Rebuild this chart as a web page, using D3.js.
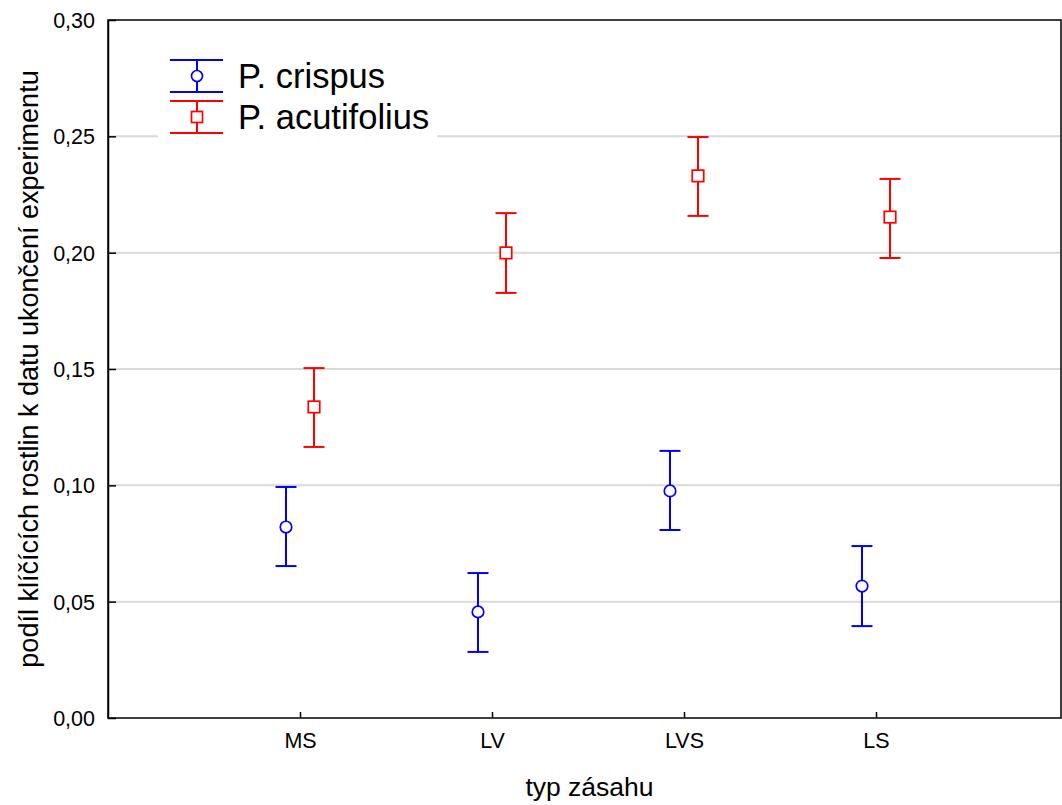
<!DOCTYPE html>
<html>
<head>
<meta charset="utf-8">
<script src="https://cdn.jsdelivr.net/npm/d3@7"></script>
<style>
  body { margin: 0; background: #fff; }
  text { font-family: "Liberation Sans", Arial, sans-serif; fill: #000; }
</style>
</head>
<body>
<svg id="chart" width="1062" height="805"></svg>
<script>
// data
var categories = ["MS", "LV", "LVS", "LS"];
var yTicks = [0, 0.05, 0.10, 0.15, 0.20, 0.25, 0.30];

var crispusMean  = [0.0821, 0.0456, 0.0976, 0.0567];
var crispusLow   = [0.0653, 0.0284, 0.0808, 0.0395];
var crispusHigh  = [0.0993, 0.0623, 0.1148, 0.0739];

var acutiMean = [0.1337, 0.1999, 0.2330, 0.2153];
var acutiLow  = [0.1165, 0.1827, 0.2158, 0.1977];
var acutiHigh = [0.1504, 0.2170, 0.2497, 0.2317];

var series = [
  { name: "P. crispus", color: "#0000ff", shape: "circle", offset: -14, mean: crispusMean, lo: crispusLow, hi: crispusHigh },
  { name: "P. acutifolius", color: "#ff0000", shape: "square", offset: 14, mean: acutiMean, lo: acutiLow, hi: acutiHigh }
];

var pLeft = 108, pRight = 1061, pTop = 20, pBottom = 718;
var svg = d3.select("#chart");

var x = d3.scaleLinear().domain([0, 5]).range([pLeft, 1068]);
var y = d3.scaleLinear().domain([0, 0.30]).range([pBottom, pTop]);
var fmt = function (v) { return d3.format(".2f")(v).replace(".", ","); };

// gridlines
svg.append("g").selectAll("line")
   .data(yTicks.filter(function (d) { return d > 0 && d < 0.30; }))
   .enter().append("line")
   .attr("x1", pLeft).attr("x2", pRight)
   .attr("y1", function (d) { return y(d); })
   .attr("y2", function (d) { return y(d); })
   .attr("stroke", "#d9d9d9").attr("stroke-width", 2);

// frame
svg.append("rect")
   .attr("x", pLeft).attr("y", pTop)
   .attr("width", pRight - pLeft).attr("height", pBottom - pTop)
   .attr("fill", "none").attr("stroke", "#000").attr("stroke-width", 1.5);

// y axis
var yAxis = d3.axisLeft(y).tickValues(yTicks).tickFormat(fmt).tickSizeInner(-8).tickSizeOuter(0).tickPadding(13);
var gy = svg.append("g").attr("transform", "translate(" + pLeft + ",0)").call(yAxis);
gy.select(".domain").attr("stroke-width", 1.5);
gy.selectAll(".tick line").attr("stroke-width", 1.5);
gy.selectAll("text").style("font-size", "21.5px").attr("dy", "0.35em");

// x axis
var xAxis = d3.axisBottom(x).tickValues([1, 2, 3, 4])
              .tickFormat(function (d) { return categories[d - 1]; })
              .tickSizeInner(-6).tickSizeOuter(0).tickPadding(15);
var gx = svg.append("g").attr("transform", "translate(0," + pBottom + ")").call(xAxis);
gx.select(".domain").remove();
gx.selectAll(".tick line").attr("stroke-width", 1.5);
gx.selectAll("text").style("font-size", "21.5px");

// axis titles
svg.append("text")
   .attr("x", (pLeft + pRight) / 2 + 5).attr("y", 796)
   .attr("text-anchor", "middle").style("font-size", "26.5px")
   .text("typ zásahu");
svg.append("text")
   .attr("transform", "translate(38," + ((pTop + pBottom) / 2) + ") rotate(-90)")
   .attr("text-anchor", "middle").style("font-size", "27px")
   .text("podíl klíčících rostlin k datu ukončení experimentu");

// error bars + points
function drawMarker(g, s, cx, cy, size) {
  if (s.shape === "circle") {
    g.append("circle").attr("cx", cx).attr("cy", cy).attr("r", size / 2)
     .attr("fill", "#fff").attr("stroke", s.color).attr("stroke-width", 1.7);
  } else {
    g.append("rect").attr("x", cx - size / 2).attr("y", cy - size / 2)
     .attr("width", size).attr("height", size)
     .attr("fill", "#fff").attr("stroke", s.color).attr("stroke-width", 1.7);
  }
}

series.forEach(function (s) {
  var g = svg.append("g");
  s.mean.forEach(function (m, i) {
    var cx = x(i + 1) + s.offset;
    g.append("line").attr("x1", cx).attr("x2", cx)
     .attr("y1", y(s.hi[i])).attr("y2", y(s.lo[i]))
     .attr("stroke", s.color).attr("stroke-width", 2);
    [s.hi[i], s.lo[i]].forEach(function (v) {
      g.append("line").attr("x1", cx - 10.5).attr("x2", cx + 10.5)
       .attr("y1", y(v)).attr("y2", y(v))
       .attr("stroke", s.color).attr("stroke-width", 2);
    });
    drawMarker(g, s, cx, y(m), 11.5);
  });
});

// legend
var lg = svg.append("g");
lg.append("rect").attr("x", 158).attr("y", 48).attr("width", 279).attr("height", 96).attr("fill", "#fff");
series.forEach(function (s, i) {
  var cy = 76 + i * 41;
  var cx = 197;
  lg.append("line").attr("x1", cx).attr("x2", cx).attr("y1", cy - 16).attr("y2", cy + 16)
    .attr("stroke", s.color).attr("stroke-width", 2);
  [cy - 16, cy + 16].forEach(function (yy) {
    lg.append("line").attr("x1", 170).attr("x2", 223).attr("y1", yy).attr("y2", yy)
      .attr("stroke", s.color).attr("stroke-width", 2);
  });
  drawMarker(lg, s, cx, cy, 11);
  lg.append("text").attr("x", 238).attr("y", cy).attr("dy", "0.36em")
    .style("font-size", "34.5px").text(s.name);
});
</script>
</body>
</html>
